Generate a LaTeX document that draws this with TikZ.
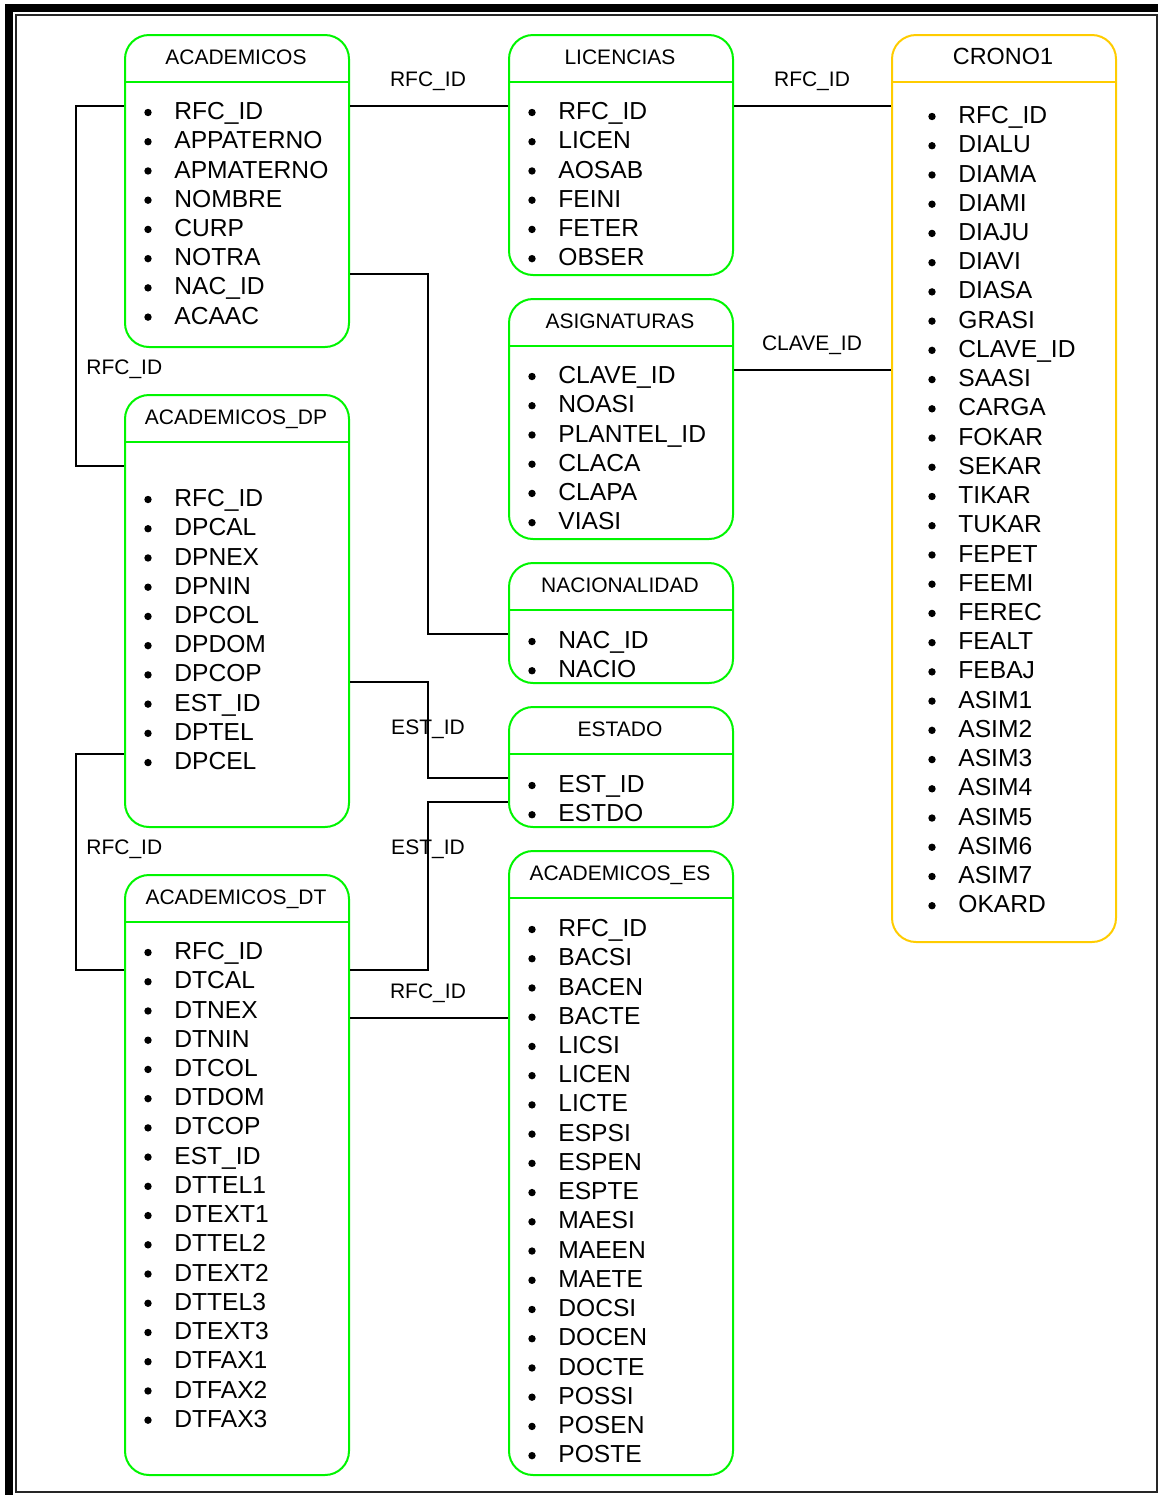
\documentclass[tikz,border=0pt]{standalone}
\usepackage{fontspec}
\setmainfont{Liberation Sans}
\definecolor{entgreen}{RGB}{0,245,0}
\definecolor{entgold}{RGB}{255,204,0}

\tikzset{
  entbox/.style={draw=#1, line width=1pt, rounded corners=12pt, inner sep=0pt,
                 anchor=north west, minimum width=112pt},
  enttitle/.style={anchor=base, inner sep=0pt},
  entitem/.style={font=\fontsize{12.3}{14}\selectfont, anchor=base west, inner sep=0pt},
  link/.style={draw=black, line width=1pt},
  linklabel/.style={font=\fontsize{10.5}{12}\selectfont, anchor=base, inner sep=0pt},
}

% indentation of the bullet and of the field text from the box's left side
\def\bulletindent{24}
\def\textindent{50}

% #1 name, #2 colour, #3 left, #4 top, #5 bottom, #6 title, #7 title font,
% #8 offset of the first row below the top, #9 list of fields
\newcommand\entity[9]{%
  \node[entbox=#2, minimum height={(#5-#4)*0.5pt}] (#1) at (#3,#4) {};
  \draw[draw=#2, line width=1pt] ([yshift=-24pt]#1.north west) -- ([yshift=-24pt]#1.north east);
  \node[enttitle, font=#7] (#1-title) at (#3+112,#4+30.2) {#6};
  \foreach \t [count=\i from 0] in {#9} {
    \pgfmathsetmacro\yy{#4+#8+\i*29.23}
    \fill (#3+\bulletindent,\yy+1.5) circle[radius=1.85pt];
    \node[entitem] (#1-\i) at (#3+\textindent,\yy+8.6) {\t};
  }%
}

\begin{document}
\begin{tikzpicture}[x=0.5pt, y=-0.5pt]
  \useasboundingbox (0,0) rectangle (1158,1495);

  % page frame
  \draw[line width=4pt] (9,1495) -- (9,8) -- (1158,8);
  \draw[line width=1pt, black!85] (16,15) rectangle (1156.5,1492);

  \def\hfont{\fontsize{10.5}{12}\selectfont}

  \entity{acad}{entgreen}{124}{34}{346}{ACADEMICOS}{\hfont}{77}%
    {RFC\_ID,APPATERNO,APMATERNO,NOMBRE,CURP,NOTRA,NAC\_ID,ACAAC}
  \entity{lic}{entgreen}{508}{34}{274}{LICENCIAS}{\hfont}{77}%
    {RFC\_ID,LICEN,AOSAB,FEINI,FETER,OBSER}
  \entity{asig}{entgreen}{508}{298}{538}{ASIGNATURAS}{\hfont}{77}%
    {CLAVE\_ID,NOASI,PLANTEL\_ID,CLACA,CLAPA,VIASI}
  \entity{nac}{entgreen}{508}{562}{682}{NACIONALIDAD}{\hfont}{78}%
    {NAC\_ID,NACIO}
  \entity{est}{entgreen}{508}{706}{826}{ESTADO}{\hfont}{78}%
    {EST\_ID,ESTDO}
  \entity{aes}{entgreen}{508}{850}{1474}{ACADEMICOS\_ES}{\hfont}{78}%
    {RFC\_ID,BACSI,BACEN,BACTE,LICSI,LICEN,LICTE,ESPSI,ESPEN,ESPTE,MAESI,MAEEN,MAETE,DOCSI,DOCEN,DOCTE,POSSI,POSEN,POSTE}
  \entity{adp}{entgreen}{124}{394}{826}{ACADEMICOS\_DP}{\hfont}{104}%
    {RFC\_ID,DPCAL,DPNEX,DPNIN,DPCOL,DPDOM,DPCOP,EST\_ID,DPTEL,DPCEL}
  \entity{adt}{entgreen}{124}{874}{1474}{ACADEMICOS\_DT}{\hfont}{77}%
    {RFC\_ID,DTCAL,DTNEX,DTNIN,DTCOL,DTDOM,DTCOP,EST\_ID,DTTEL1,DTEXT1,DTTEL2,DTEXT2,DTTEL3,DTEXT3,DTFAX1,DTFAX2,DTFAX3}

  % the timetable box has its fields set further in
  \def\bulletindent{41}
  \def\textindent{67}
  \entity{crono}{entgold}{891}{34}{941}{CRONO1}{\fontsize{11.7}{13}\selectfont}{81}%
    {RFC\_ID,DIALU,DIAMA,DIAMI,DIAJU,DIAVI,DIASA,GRASI,CLAVE\_ID,SAASI,CARGA,FOKAR,SEKAR,TIKAR,TUKAR,FEPET,FEEMI,FEREC,FEALT,FEBAJ,ASIM1,ASIM2,ASIM3,ASIM4,ASIM5,ASIM6,ASIM7,OKARD}

  % relations
  \draw[link] (acad.east |- 0,106) -- (lic.west |- 0,106);
  \draw[link] (lic.east |- 0,106) -- (crono.west |- 0,106);
  \draw[link] (asig.east |- 0,370) -- (crono.west |- 0,370);
  \draw[link] (acad.west |- 0,106) -| (76,466) -- (adp.west |- 0,466);
  \draw[link] (acad.east |- 0,274) -| (428,634) -- (nac.west |- 0,634);
  \draw[link] (adp.east |- 0,682) -| (428,778) -- (est.west |- 0,778);
  \draw[link] (adt.east |- 0,970) -| (428,802) -- (est.west |- 0,802);
  \draw[link] (adp.west |- 0,754) -| (76,970) -- (adt.west |- 0,970);
  \draw[link] (adt.east |- 0,1018) -- (aes.west |- 0,1018);

  % relation labels
  \node[linklabel] (lab1) at (428,86.5) {RFC\_ID};
  \node[linklabel] (lab2) at (812,86.5) {RFC\_ID};
  \node[linklabel] (lab3) at (812,350.5) {CLAVE\_ID};
  \node[linklabel, anchor=base west] (lab4) at (86,374.5) {RFC\_ID};
  \node[linklabel] (lab5) at (428,734.5) {EST\_ID};
  \node[linklabel] (lab6) at (428,854.5) {EST\_ID};
  \node[linklabel, anchor=base west] (lab7) at (86,854.5) {RFC\_ID};
  \node[linklabel] (lab8) at (428,998.5) {RFC\_ID};
\end{tikzpicture}
\end{document}
